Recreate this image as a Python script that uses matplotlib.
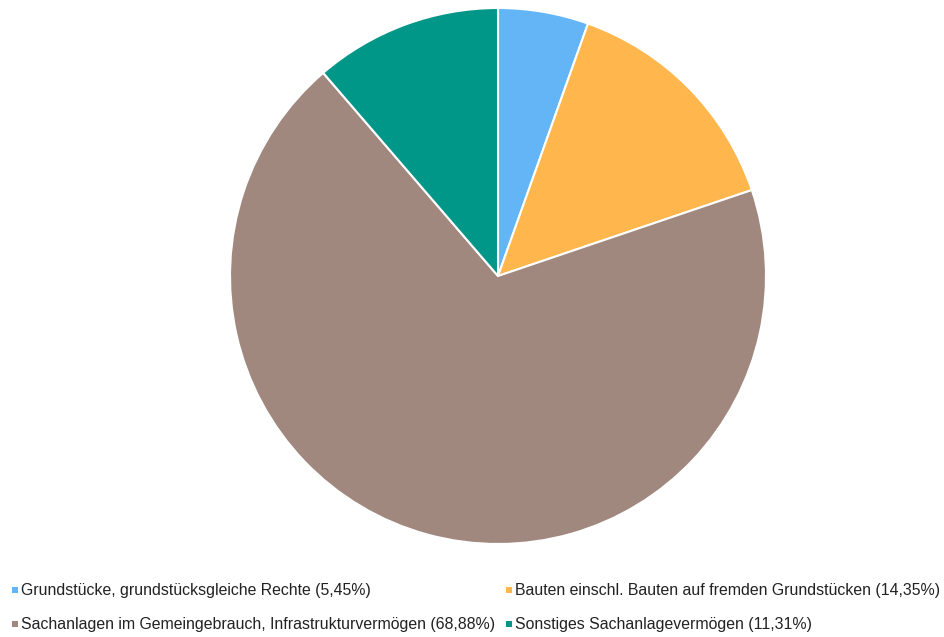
import matplotlib.pyplot as plt
from matplotlib.patches import Rectangle

plt.rcParams['font.family'] = ['Liberation Sans', 'DejaVu Sans']

# Data
labels = ['Grundstücke, grundstücksgleiche Rechte',
          'Bauten einschl. Bauten auf fremden Grundstücken',
          'Sachanlagen im Gemeingebrauch, Infrastrukturvermögen',
          'Sonstiges Sachanlagevermögen']
shares = [5.45, 14.35, 68.88, 11.31]
colors = ['#64B5F6', '#FFB74D', '#A1887F', '#009688']

W, H = 944, 637
fig = plt.figure(figsize=(W / 100, H / 100), dpi=100)

# Pie axes: center (498, 276) px, radius 268 px
cx, cy, r = 498, 276, 268
ax = fig.add_axes([(cx - r) / W, (H - cy - r) / H, 2 * r / W, 2 * r / H])
ax.pie(shares, colors=colors, startangle=90, counterclock=False, radius=1,
       wedgeprops=dict(edgecolor='white', linewidth=1.5))
ax.set_xlim(-1, 1)
ax.set_ylim(-1, 1)
ax.set_aspect('equal')
ax.axis('off')

# Legend (flow layout, manual)
fig.canvas.draw()
renderer = fig.canvas.get_renderer()
rows = [[0, 1], [2, 3]]
row_y = [590, 624]
first_x = 12
col2_x = 506
for row, yy in zip(rows, row_y):
    x = first_x
    for j, i in enumerate(row):
        if j == 1:
            x = max(x, col2_x)
        fig.patches.append(Rectangle((x / W, (H - yy - 3) / H), 6 / W, 6 / H,
                                     transform=fig.transFigure, facecolor=colors[i],
                                     edgecolor='none'))
        pct = f'{shares[i]:.2f}'.replace('.', ',')
        t = fig.text((x + 9) / W, (H - yy) / H, f'{labels[i]} ({pct}%)',
                     fontsize=11.4, color='#222222', va='center', ha='left')
        bb = t.get_window_extent(renderer)
        x = bb.x1 + 10

fig.savefig('out.png', dpi=100)
